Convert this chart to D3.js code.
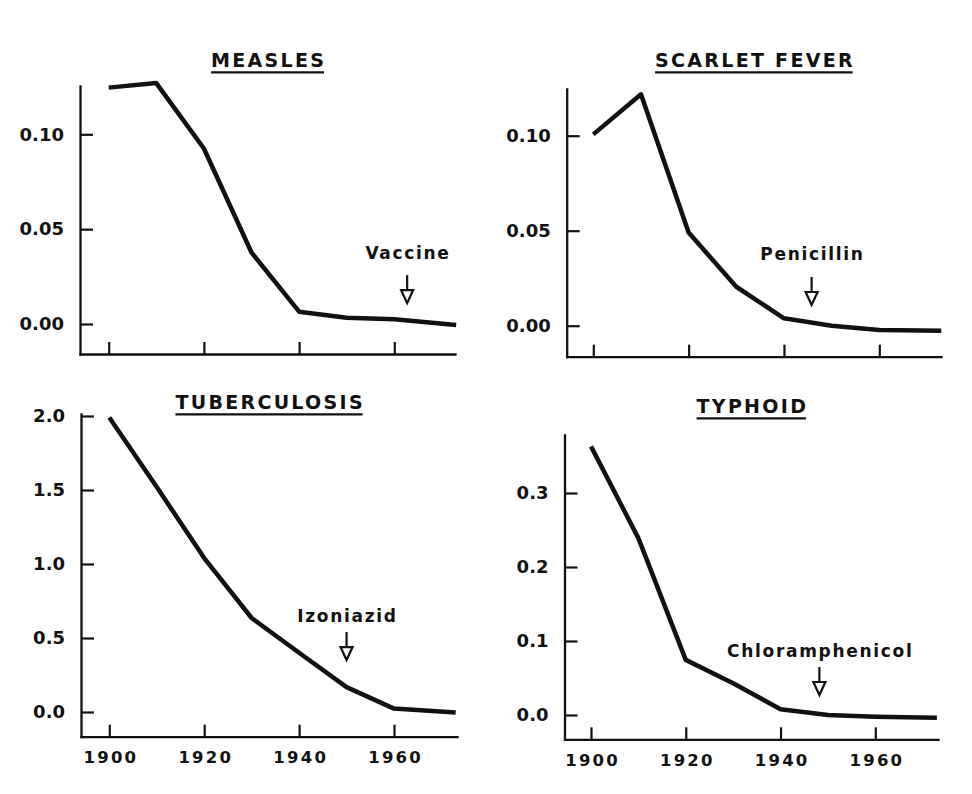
<!DOCTYPE html>
<html><head><meta charset="utf-8">
<script src="https://cdn.jsdelivr.net/npm/d3@7"></script>
<style>body{margin:0;background:#fff} svg{display:block}</style>
</head><body>
<svg id="c" width="972" height="794"></svg>
<script>
// ---- data ----
const years = [1900, 1910, 1920, 1930, 1940, 1950, 1960, 1973];
const measles = [0.1246, 0.127, 0.0925, 0.0377, 0.0065, 0.0033, 0.0025, -0.0005];
const scarletFever = [0.1007, 0.1218, 0.049, 0.0205, 0.0039, 0.0, -0.0023, -0.0026];
const tuberculosis = [1.99, 1.52, 1.04, 0.635, 0.40, 0.168, 0.023, -0.004];
const typhoid = [0.363, 0.239, 0.0745, 0.043, 0.0077, 0.0, -0.0023, -0.0037];

const xTicks = [1900, 1920, 1940, 1960];
const measlesTicks = [0, 0.05, 0.10];
const scarletTicks = [0, 0.05, 0.10];
const tbTicks = [0, 0.5, 1.0, 1.5, 2.0];
const typhoidTicks = [0, 0.1, 0.2, 0.3];

const titles = ["MEASLES", "SCARLET FEVER", "TUBERCULOSIS", "TYPHOID"];
const noteLabels = ["Vaccine", "Penicillin", "Izoniazid", "Chloramphenicol"];
const noteYears = [1962.7, 1945.8, 1950, 1948.2];
const noteTipValues = [0.011, 0.0109, 0.351, 0.027];
const noteTextValues = [0.0343, 0.0344, 0.61, 0.078];

// ---- layout ----
const layout = [
  {left: 80, right: 455, top: 86, bottom: 354, xCal: [108.7, 394.3], yCal: [[0, 324], [0.10, 134.3]], fmt: ".2f", showX: false, titleY: 67.3},
  {left: 566.7, right: 941, top: 89, bottom: 356.7, xCal: [593.3, 879.3], yCal: [[0, 325.7], [0.10, 135.7]], fmt: ".2f", showX: false, titleY: 67.3},
  {left: 81, right: 457, top: 414, bottom: 736.7, xCal: [109.3, 394], yCal: [[0, 712], [2, 416]], fmt: ".1f", showX: true, titleY: 409.3},
  {left: 564.5, right: 938, top: 435, bottom: 739.3, xCal: [591, 875.3], yCal: [[0, 715], [0.3, 493]], fmt: ".1f", showX: true, titleY: 413.3}
];
const seriesList = [measles, scarletFever, tuberculosis, typhoid];
const tickList = [measlesTicks, scarletTicks, tbTicks, typhoidTicks];

const INK = "#111";
const FONT = "'DejaVu Sans', Verdana, sans-serif";
const svg = d3.select("#c");

layout.forEach((L, i) => {
  const g = svg.append("g");
  const x0 = d3.scaleLinear().domain([1900, 1960]).range(L.xCal);
  const x = d3.scaleLinear().domain([x0.invert(L.left), x0.invert(L.right)]).range([L.left, L.right]);
  const y0 = d3.scaleLinear().domain([L.yCal[0][0], L.yCal[1][0]]).range([L.yCal[0][1], L.yCal[1][1]]);
  const y = d3.scaleLinear().domain([y0.invert(L.bottom), y0.invert(L.top)]).range([L.bottom, L.top]);

  const ya = g.append("g").attr("transform", `translate(${L.left},0)`)
    .call(d3.axisLeft(y).tickValues(tickList[i]).tickSizeInner(-13).tickSizeOuter(0).tickPadding(16)
      .tickFormat(d3.format(L.fmt)));
  const xa = g.append("g").attr("transform", `translate(0,${L.bottom})`)
    .call(d3.axisBottom(x).tickValues(xTicks).tickSizeInner(-12).tickSizeOuter(0).tickPadding(15)
      .tickFormat(L.showX ? d3.format("d") : () => ""));
  [ya, xa].forEach(a => {
    a.selectAll("path.domain").attr("stroke", INK).attr("stroke-width", 2.3).attr("stroke-linecap", "square");
    a.selectAll(".tick line").attr("stroke", INK).attr("stroke-width", 2.2);
    a.selectAll("text").attr("fill", INK).style("font-family", FONT).style("font-weight", "bold");
  });
  ya.selectAll("text").style("font-size", "18px");
  xa.selectAll("text").style("font-size", "16.5px").style("letter-spacing", "2.2px").attr("dx", 1.1);

  const pts = years.map((yr, k) => [yr, seriesList[i][k]]);
  g.append("path").datum(pts)
    .attr("d", d3.line().x(d => x(d[0])).y(d => y(d[1])))
    .attr("fill", "none").attr("stroke", INK).attr("stroke-width", 4.5)
    .attr("stroke-linejoin", "round").attr("stroke-linecap", "butt");

  const cx = (L.left + L.right) / 2;
  const t = g.append("text").attr("x", cx).attr("y", L.titleY).attr("dx", 1.15)
    .attr("text-anchor", "middle").attr("fill", INK)
    .style("font-family", FONT).style("font-weight", "bold").style("font-size", "19px")
    .style("letter-spacing", "2.3px").text(titles[i]);
  const bb = t.node().getBBox();
  g.append("line").attr("x1", bb.x).attr("x2", bb.x + bb.width - 2.3)
    .attr("y1", L.titleY + 5).attr("y2", L.titleY + 5)
    .attr("stroke", INK).attr("stroke-width", 2.3);

  const ax = x(noteYears[i]);
  const tip = y(noteTipValues[i]);
  g.append("text").attr("x", ax).attr("y", y(noteTextValues[i])).attr("dx", 0.85)
    .attr("text-anchor", "middle").attr("fill", INK)
    .style("font-family", FONT).style("font-weight", "bold").style("font-size", "17px")
    .style("letter-spacing", "1.7px").text(noteLabels[i]);
  g.append("line").attr("x1", ax).attr("x2", ax).attr("y1", tip - 28).attr("y2", tip - 13)
    .attr("stroke", INK).attr("stroke-width", 2.2);
  g.append("path")
    .attr("d", d3.line()([[ax - 6, tip - 13], [ax + 6, tip - 13], [ax, tip]]) + "Z")
    .attr("fill", "#fff").attr("stroke", INK).attr("stroke-width", 2.2).attr("stroke-linejoin", "miter");
});
</script>
</body></html>
